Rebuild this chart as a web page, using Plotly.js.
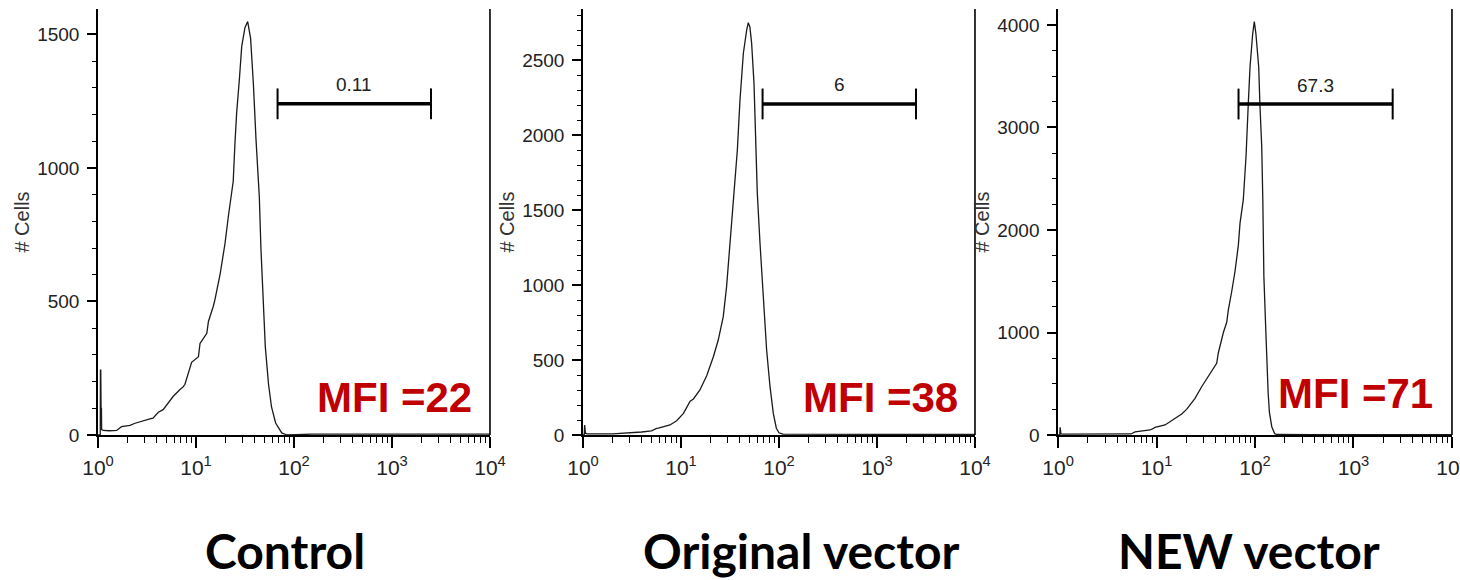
<!DOCTYPE html>
<html>
<head>
<meta charset="utf-8">
<script src="https://cdn.plot.ly/plotly-3.0.1.min.js"></script>
<style>html,body{margin:0;padding:0;background:#fff}#chart{width:1460px;height:580px}</style>
</head>
<body>
<div id="chart"></div>
<script>
// ---------- data ----------
const panelNames = ['Control', 'Original vector', 'NEW vector'];
const mfiValues = [22, 38, 71];
const gatePercent = ['0.11', '6', '67.3'];
const gateLo = 68;
const gateHi = 2500;
const gateLevel = [1240, 2207, 3229];
const yMax = [1595, 2840, 4156];
const yMajor = [500, 500, 1000];
const yMinor = [100, 100, 250];

const controlX = [1.0, 1.055, 1.06, 1.068, 1.075, 1.085, 1.09, 1.13, 1.3, 1.55, 1.74, 1.9, 2.12, 2.39, 2.68, 3.39, 3.64, 4.13, 4.62, 5.02, 5.87, 6.87, 7.4, 7.72, 9.03, 10.6, 11.0, 12.9, 13.4, 15.0, 15.6, 17.6, 19.8, 21.4, 23.1, 24.0, 25.0, 26.0, 27.7, 29.3, 31.6, 33.7, 36.1, 38.5, 41.0, 44.3, 46.0, 48.0, 51.0, 55.0, 59.0, 65.0, 75.0, 85.0, 150, 600, 2500, 10000];
const controlY = [0, 0, 243, 243, 100, 100, 20, 17, 16, 17, 31, 33, 36, 44, 50, 60, 63, 85, 95, 112, 145, 170, 180, 190, 272, 293, 343, 381, 425, 481, 506, 600, 718, 818, 900, 950, 1093, 1205, 1330, 1455, 1525, 1548, 1485, 1317, 1105, 892, 700, 530, 330, 190, 105, 45, 8, 0, 3, 3, 3, 3];

const originalX = [1.0, 1.03, 1.04, 1.06, 1.1, 2.0, 3.97, 5.0, 5.65, 5.87, 7.72, 9.03, 10.6, 12.4, 13.4, 15.6, 18.3, 21.4, 24.0, 27.0, 29.2, 31.6, 34.2, 37.6, 40.0, 43.3, 46.8, 48.6, 50.5, 52.6, 55.6, 57.8, 60.1, 64.0, 69.0, 74.8, 81.0, 87.5, 94.0, 100, 110, 300, 2000, 10000];
const originalY = [0, 0, 67, 12, 8, 8, 20, 28, 44, 46, 67, 95, 144, 225, 240, 300, 395, 522, 633, 789, 989, 1260, 1560, 1900, 2233, 2545, 2700, 2749, 2720, 2611, 2344, 2011, 1611, 1280, 900, 567, 322, 144, 45, 15, 6, 4, 4, 4];

const newX = [1.0, 1.04, 1.05, 1.07, 1.1, 2.0, 5.5, 6.05, 8.59, 9.3, 9.66, 12.2, 13.7, 14.3, 18.0, 20.2, 24.6, 28.7, 33.6, 37.8, 40.8, 42.4, 47.7, 51.6, 53.6, 58.0, 62.7, 67.7, 70.4, 76.0, 81.0, 85.5, 89.0, 94.8, 98.4, 102, 109, 112, 117, 120, 123, 129, 133, 136, 140, 148, 158, 165, 400, 2000, 10000];
const newY = [0, 0, 75, 12, 8, 8, 10, 30, 49, 65, 75, 98, 130, 146, 205, 250, 358, 471, 569, 640, 700, 800, 1000, 1100, 1220, 1400, 1600, 1850, 2065, 2293, 2715, 3236, 3593, 3919, 4032, 3919, 3593, 3236, 2813, 2293, 1550, 990, 600, 410, 220, 81, 15, 5, 4, 4, 4];

const seriesX = [controlX, originalX, newX];
const seriesY = [controlY, originalY, newY];

const xTickVals = [1, 10, 100, 1000, 10000];
const xTickText = ['10<sup>0</sup>', '10<sup>1</sup>', '10<sup>2</sup>', '10<sup>3</sup>', '10<sup>4</sup>'];

// ---------- layout helpers ----------
const xDomains = [[0.0671, 0.3356], [0.3993, 0.6678], [0.7247, 0.9945]];
const mfiPos = [[0.756, 0.089], [0.760, 0.089], [0.754, 0.098]];
const titleX = [0.1952, 0.5486, 0.8555];

const minorX = [];
for (let d = 0; d < 4; d++) {
  for (let m = 2; m <= 9; m++) minorX.push(m * Math.pow(10, d));
}

const fam = 'Liberation Sans, Arial, sans-serif';
const tickFont = {family: fam, size: 19, color: '#222'};
const black = '#000';

const traces = [];
const layout = {
  width: 1460, height: 580,
  margin: {l: 0, r: 0, t: 9, b: 145},
  paper_bgcolor: '#fff', plot_bgcolor: '#fff',
  showlegend: false,
  font: {family: fam, color: '#222'},
  shapes: [], annotations: []
};

for (let i = 0; i < 3; i++) {
  const s = i === 0 ? '' : String(i + 1);
  traces.push({
    type: 'scatter', mode: 'lines',
    x: seriesX[i], y: seriesY[i],
    xaxis: 'x' + s, yaxis: 'y' + s,
    line: {color: '#1a1a1a', width: 1.3},
    hoverinfo: 'x+y'
  });
  traces.push({
    type: 'scatter', mode: 'lines+markers',
    x: [gateLo, gateHi], y: [gateLevel[i], gateLevel[i]],
    xaxis: 'x' + s, yaxis: 'y' + s,
    line: {color: black, width: 3.5},
    marker: {symbol: 'line-ns', size: 22, color: black, line: {color: black, width: 2}},
    hoverinfo: 'skip'
  });

  layout['xaxis' + s] = {
    domain: xDomains[i], anchor: 'y' + s, type: 'log', range: [0, 4],
    showline: true, linecolor: black, linewidth: 1.5,
    showgrid: false, zeroline: false,
    ticks: 'outside', ticklen: 11, tickwidth: 1.5, tickcolor: black,
    tickmode: 'array', tickvals: xTickVals, ticktext: xTickText,
    tickfont: {family: fam, size: 21, color: '#222'},
    ticklabeloverflow: 'allow', ticklabelstandoff: 2,
    minor: {tickmode: 'array', tickvals: minorX, ticks: 'outside', ticklen: 6, tickwidth: 1.2, tickcolor: black},
    fixedrange: true
  };
  layout['yaxis' + s] = {
    domain: [0, 1], anchor: 'x' + s, range: [0, yMax[i]],
    showline: true, linecolor: black, linewidth: 1.5,
    showgrid: false, zeroline: false,
    ticks: 'outside', ticklen: 9, tickwidth: 1.5, tickcolor: black,
    tick0: 0, dtick: yMajor[i],
    minor: {dtick: yMinor[i], ticks: 'outside', ticklen: 4, tickwidth: 1.2, tickcolor: black},
    tickfont: tickFont, ticklabelstandoff: 4,
    title: {text: '# Cells', font: {family: fam, size: 20, color: '#333'}, standoff: 2},
    automargin: true,
    fixedrange: true
  };

  // right frame line
  layout.shapes.push({
    type: 'line', xref: 'x' + s + ' domain', yref: 'y' + s + ' domain',
    x0: 1, x1: 1, y0: 0, y1: 1, line: {color: black, width: 1.6}
  });

  // gate percentage label
  layout.annotations.push({
    xref: 'x' + s, yref: 'y' + s,
    x: (Math.log10(gateLo) + Math.log10(gateHi)) / 2, y: gateLevel[i],
    yshift: 19, xanchor: 'center', yanchor: 'middle', showarrow: false,
    text: gatePercent[i], font: {family: fam, size: 19, color: '#222'}
  });

  // MFI label
  layout.annotations.push({
    xref: 'x' + s + ' domain', yref: 'y' + s + ' domain',
    x: mfiPos[i][0], y: mfiPos[i][1], xanchor: 'center', yanchor: 'middle', showarrow: false,
    text: '<b>MFI =' + mfiValues[i] + '</b>',
    font: {family: fam, size: 42, color: '#C00000'}
  });

  // panel name under the plot
  layout.annotations.push({
    xref: 'paper', yref: 'paper',
    x: titleX[i], y: -0.27, xanchor: 'center', yanchor: 'middle', showarrow: false,
    text: '<b>' + panelNames[i] + '</b>',
    font: {family: 'Lato, sans-serif', size: 48, color: '#000'}
  });
}

Plotly.newPlot('chart', traces, layout, {displayModeBar: false});
</script>
</body>
</html>
